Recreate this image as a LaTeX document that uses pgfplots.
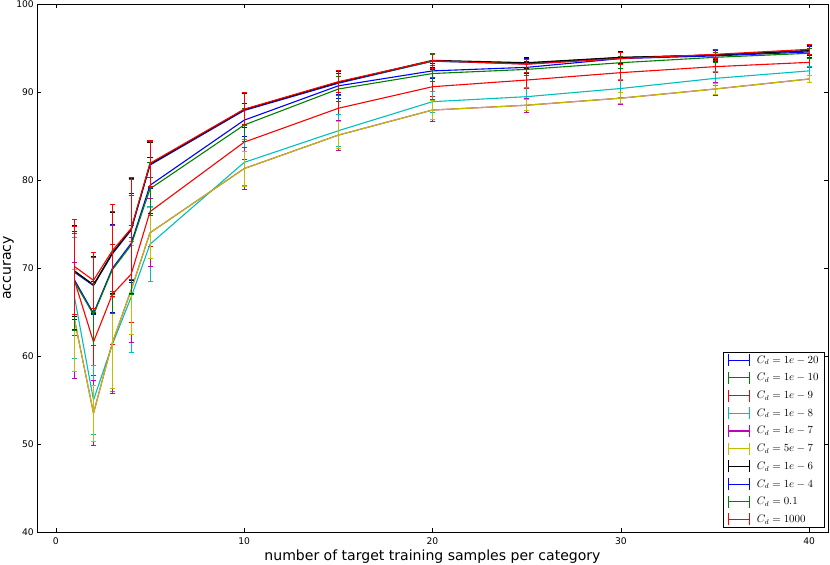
\documentclass[border=0pt]{standalone}
\usepackage{fontspec}
\setmainfont{DejaVu Sans}
\usepackage{pgfplots}
\pgfplotsset{compat=1.18}
\definecolor{mb}{rgb}{0,0,1}
\definecolor{mg}{rgb}{0,0.5,0}
\definecolor{mr}{rgb}{1,0,0}
\definecolor{mc}{rgb}{0,0.75,0.75}
\definecolor{mm}{rgb}{0.75,0,0.75}
\definecolor{my}{rgb}{0.75,0.75,0}
\pgfplotsset{
  eb/.style={color=#1, mark=none, line width=1.1bp,
    error bars/y dir=both, error bars/y explicit,
    error bars/error bar style={color=#1, line width=0.9bp},
    error bars/error mark=-,
    error bars/error mark options={rotate=90, color=#1, mark size=2.5bp, line width=0.9bp}},
}
\begin{document}
\begin{tikzpicture}
\begin{axis}[
  at={(0,0)}, anchor=south west,
  scale only axis, width=791bp, height=528bp,
  xmin=-1, xmax=41, ymin=40, ymax=100,
  xtick={0,10,20,30,40}, ytick={40,50,60,70,80,90,100},
  tick align=inside, major tick length=4bp,
  axis line style={line width=0.9bp, black},
  every tick/.style={black, line width=0.6bp},
  tick label style={font=\fontsize{9.2}{11}\selectfont},
  /pgf/number format/assume math mode=true,
  xticklabel style={anchor=base, yshift=-12.3bp},
  yticklabel style={anchor=east, inner sep=0pt, xshift=-3bp},
  xlabel={number of target training samples per category},
  ylabel={accuracy},
  label style={font=\fontsize{14.1}{17}\selectfont},
  xlabel style={at={(axis description cs:0.5,-0.0549)}, anchor=base},
  ylabel style={at={(axis description cs:-0.0329,0.5)}, anchor=base},
  legend cell align=left,
  legend style={at={(0.9962,0.0076)}, anchor=south east, draw=black, line width=0.9bp,
    font=\fontsize{10.7}{13}\selectfont, inner xsep=4.5bp, inner ysep=1.5bp,
    nodes={inner sep=1.5bp}, row sep=4.6bp},
  legend image code/.code={
    \path[draw=none] (0bp,0bp) -- (27bp,0bp);
    \draw[#1] (0bp,-6bp) -- (0bp,6bp) (0bp,0bp) -- (21bp,0bp) (21bp,-6bp) -- (21bp,6bp);
  },
]
% C_d = 1e-20 (blue)
\addplot[eb=mb] table[x=x,y=y,y error=e] {
x y e
1 69.5 5.3
2 68.0 3.3
3 71.6 4.8
4 74.3 5.9
5 81.7 2.7
10 87.9 1.9
15 91.0 1.3
20 93.5 0.9
25 93.2 0.6
30 93.9 0.7
35 94.2 0.5
40 94.7 0.6
};
\addlegendentry{$C_d=1e-20$}
% C_d = 1e-10 (green)
\addplot[eb=mg] table[x=x,y=y,y error=e] {
x y e
1 69.6 5.1
2 68.1 3.1
3 71.7 4.7
4 74.4 5.7
5 81.8 2.6
10 88.0 1.8
15 91.1 1.2
20 93.5 0.8
25 93.3 0.6
30 93.9 0.6
35 94.2 0.5
40 94.7 0.5
};
\addlegendentry{$C_d=1e-10$}
% C_d = 1e-9 (red)
\addplot[eb=mr] table[x=x,y=y,y error=e] {
x y e
1 68.5 6.2
2 61.6 3.8
3 67.0 5.7
4 69.3 5.5
5 76.4 3.9
10 84.3 2.0
15 88.15 1.5
20 90.6 1.1
25 91.36 0.9
30 92.2 0.9
35 92.88 0.7
40 93.37 0.6
};
\addlegendentry{$C_d=1e-9$}
% C_d = 1e-8 (cyan)
\addplot[eb=mc] table[x=x,y=y,y error=e] {
x y e
1 66.6 6.9
2 55.0 3.9
3 61.3 5.3
4 66.7 6.3
5 72.7 4.25
10 82.0 2.6
15 85.6 1.8
20 88.9 1.2
25 89.47 1.0
30 90.4 1.0
35 91.55 0.8
40 92.4 0.5
};
\addlegendentry{$C_d=1e-8$}
% C_d = 1e-7 (magenta)
\addplot[eb=mm] table[x=x,y=y,y error=e] {
x y e
1 64.05 6.55
2 53.5 3.7
3 61.5 5.8
4 67.5 6.0
5 74.0 3.85
10 81.3 2.4
15 85.1 1.7
20 87.95 1.25
25 88.5 0.8
30 89.3 0.7
35 90.34 0.75
40 91.48 0.45
};
\addlegendentry{$C_d=1e-7$}
% C_d = 5e-7 (yellow)
\addplot[eb=my] table[x=x,y=y,y error=e] {
x y e
1 64.05 5.8
2 53.5 3.2
3 61.5 5.2
4 67.5 5.1
5 74.0 2.9
10 81.3 2.0
15 85.1 1.5
20 87.95 1.1
25 88.5 0.6
30 89.3 0.6
35 90.34 0.6
40 91.48 0.4
};
\addlegendentry{$C_d=5e-7$}
% C_d = 1e-6 (black)
\addplot[eb=black] table[x=x,y=y,y error=e] {
x y e
1 69.66 5.2
2 68.07 3.2
3 71.7 4.6
4 74.4 5.8
5 81.8 2.5
10 88.0 1.8
15 91.1 1.2
20 93.6 0.8
25 93.33 0.6
30 93.94 0.7
35 94.2 0.55
40 94.7 0.6
};
\addlegendentry{$C_d=1e-6$}
% C_d = 1e-4 (blue)
\addplot[eb=mb] table[x=x,y=y,y error=e] {
x y e
1 68.6 5.6
2 64.85 3.6
3 69.96 5.0
4 72.8 5.7
5 79.4 3.2
10 86.8 1.9
15 90.7 1.4
20 92.4 0.9
25 92.8 0.7
30 93.8 0.7
35 94.1 0.6
40 94.55 0.6
};
\addlegendentry{$C_d=1e-4$}
% C_d = 0.1 (green)
\addplot[eb=mg] table[x=x,y=y,y error=e] {
x y e
1 68.4 5.5
2 64.7 3.5
3 69.8 5.0
4 72.6 5.6
5 79.0 3.0
10 86.25 1.9
15 90.34 1.4
20 92.1 0.9
25 92.57 0.7
30 93.33 0.7
35 93.94 0.6
40 94.4 0.6
};
\addlegendentry{$C_d=0.1$}
% C_d = 1000 (red)
\addplot[eb=mr] table[x=x,y=y,y error=e] {
x y e
1 70.15 5.4
2 68.6 3.2
3 71.97 5.2
4 74.5 5.8
5 81.9 2.6
10 88.05 1.85
15 91.17 1.25
20 93.56 0.85
25 93.15 0.6
30 93.8 0.7
35 94.28 0.5
40 94.85 0.55
};
\addlegendentry{$C_d=1000$}
\end{axis}
\pgfresetboundingbox
\useasboundingbox (-37bp,-33bp) rectangle (793bp,532bp);
\end{tikzpicture}
\end{document}
